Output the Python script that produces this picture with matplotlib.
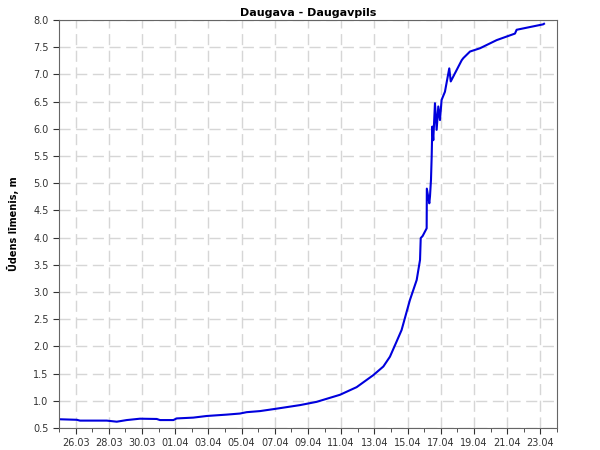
import matplotlib
matplotlib.use("Agg")
import matplotlib.pyplot as plt
import matplotlib.dates as mdates
import pandas as pd

# water level readings
times = [
    "2013-03-25 00:00", "2013-03-26 01:40", "2013-03-26 06:20", "2013-03-27 21:00",
    "2013-03-28 11:30", "2013-03-29 02:00", "2013-03-29 21:00", "2013-03-30 21:20",
    "2013-03-31 02:00", "2013-03-31 21:20", "2013-04-01 02:10", "2013-04-02 02:10",
    "2013-04-02 21:40", "2013-04-04 02:20", "2013-04-04 21:40", "2013-04-05 07:20",
    "2013-04-06 02:40", "2013-04-07 00:15", "2013-04-08 12:30", "2013-04-09 12:30",
    "2013-04-10 22:20", "2013-04-11 22:20", "2013-04-12 22:20", "2013-04-13 13:00",
    "2013-04-13 22:30", "2013-04-14 08:10", "2013-04-14 15:20", "2013-04-15 03:20",
    "2013-04-15 13:10", "2013-04-15 18:00", "2013-04-15 19:00", "2013-04-15 21:50",
    "2013-04-16 03:35", "2013-04-16 03:50", "2013-04-16 07:25", "2013-04-16 08:25",
    "2013-04-16 09:50", "2013-04-16 10:50", "2013-04-16 11:45", "2013-04-16 13:10",
    "2013-04-16 15:35", "2013-04-16 18:00", "2013-04-16 20:25", "2013-04-16 22:50",
    "2013-04-17 01:10", "2013-04-17 06:00", "2013-04-17 12:15", "2013-04-17 14:25",
    "2013-04-18 06:15", "2013-04-18 08:40", "2013-04-18 18:15", "2013-04-19 08:40",
    "2013-04-20 08:50", "2013-04-21 11:15", "2013-04-21 13:40", "2013-04-22 08:50",
    "2013-04-23 04:05", "2013-04-23 05:15",
]
levels = [
    0.66, 0.65, 0.635, 0.635,
    0.615, 0.645, 0.67, 0.665,
    0.645, 0.645, 0.675, 0.69,
    0.72, 0.745, 0.765, 0.79,
    0.81, 0.85, 0.92, 0.98,
    1.11, 1.25, 1.47, 1.63,
    1.81, 2.09, 2.30, 2.85,
    3.22, 3.59, 3.99, 4.03,
    4.17, 4.90, 4.63, 4.76,
    5.06, 5.49, 6.04, 5.79,
    6.47, 5.98, 6.41, 6.16,
    6.53, 6.68, 7.11, 6.87,
    7.26, 7.30, 7.42, 7.48,
    7.63, 7.75, 7.82, 7.87,
    7.92, 7.93,
]

t = pd.to_datetime(times)

fig = plt.figure(figsize=(6, 4.5), dpi=100)
ax = fig.add_axes([0.0983, 0.049, 0.83, 0.9066])

ax.plot(t, levels, color="#0000dd", linewidth=1.5)

ax.set_xlim(pd.Timestamp("2013-03-25"), pd.Timestamp("2013-04-24"))
ax.set_ylim(0.5, 8.0)
ax.set_yticks([0.5 + 0.5 * i for i in range(16)])
ax.yaxis.set_major_formatter(matplotlib.ticker.FormatStrFormatter("%.1f"))

ax.xaxis.set_major_locator(mdates.DayLocator(bymonthday=[26, 28, 30, 1, 3, 5, 7, 9, 11, 13, 15, 17, 19, 21, 23]))
ax.xaxis.set_minor_locator(mdates.DayLocator())
ax.xaxis.set_major_formatter(mdates.DateFormatter("%d.%m"))

ax.grid(True, which="major", color="#d6d6d6", linestyle=(0, (8, 4)), linewidth=1)
ax.tick_params(axis="both", which="both", direction="out", labelsize=7, colors="#333333")
ax.tick_params(which="major", length=4)
ax.tick_params(which="minor", length=3)
for s in ax.spines.values():
    s.set_color("#666666")

ax.set_title("Daugava - Daugavpils", fontsize=8, fontweight="bold", pad=3)
ax.set_ylabel("Ūdens līmenis, m", fontsize=7, fontweight="bold", labelpad=10)

fig.savefig("out.png", dpi=100)
